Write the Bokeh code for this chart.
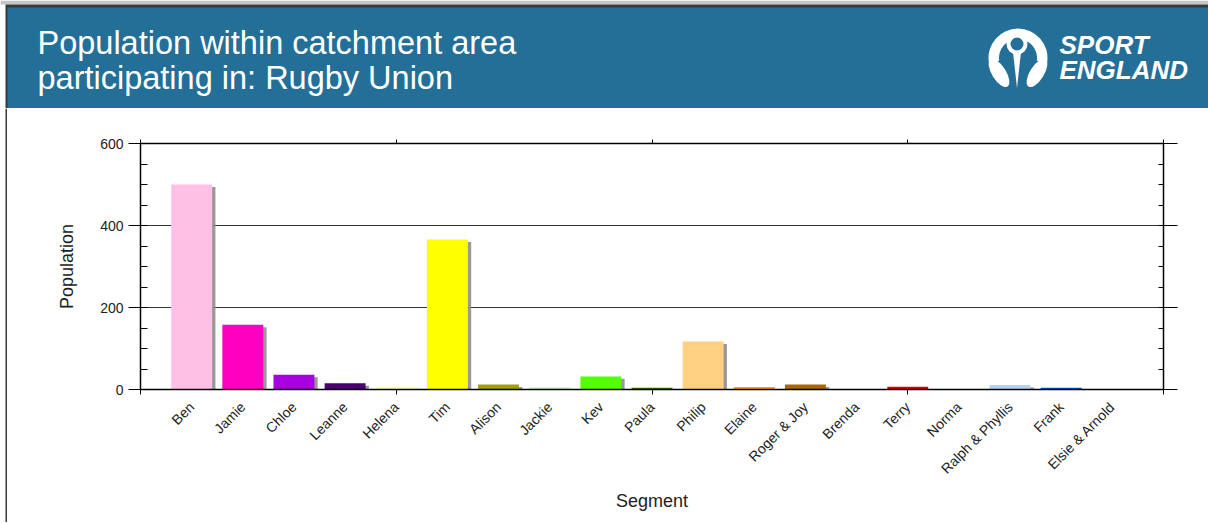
import math
from bokeh.plotting import figure
from bokeh.layouts import column, row
from bokeh.models import (Range1d, LinearAxis, FixedTicker, ColumnDataSource)
from bokeh.transform import dodge
from bokeh.core.properties import value
from bokeh.embed import file_html
from bokeh.resources import INLINE

# ---------------- data ----------------
segments = ["Ben", "Jamie", "Chloe", "Leanne", "Helena", "Tim", "Alison", "Jackie",
            "Kev", "Paula", "Philip", "Elaine", "Roger & Joy", "Brenda", "Terry",
            "Norma", "Ralph & Phyllis", "Frank", "Elsie & Arnold"]
population = [500, 158, 36, 15, 8, 366, 12, 5, 32, 4, 117, 6, 12, 1, 7, 0, 11, 4, 0]
bar_colors = ["#ffc0e6", "#ff00c0", "#a800e0", "#4b0070", "#ffffc0", "#ffff00",
              "#a0a000", "#c8f0c0", "#55ff00", "#2c6e00", "#ffd080", "#ffa000",
              "#a86800", "#d0d0d0", "#e00000", "#d0d0d0", "#b8d0f8", "#0050d0", "#d0d0d0"]
y_ticks = [0, 200, 400, 600]
title_lines = ["Population within catchment area", "participating in: Rugby Union"]
logo_lines = ["SPORT", "ENGLAND"]

FONT = "Liberation Sans"
BLUE = "#236f97"
W = 1208
HH = 108
CH = 414

# ---------------- header ----------------
h = figure(width=W, height=HH, x_range=Range1d(0, W), y_range=Range1d(0, HH),
           min_border=0, toolbar_location=None, output_backend="svg",
           background_fill_color="white", border_fill_color="white",
           outline_line_color=None, frame_align=False)
h.axis.visible = False
h.grid.visible = False

# page frame decorations + blue band
h.quad(left=[0], right=[W], bottom=[HH - 4], top=[HH], color="#c6c6c6", line_color=None)
h.quad(left=[5], right=[W], bottom=[0], top=[HH - 4], color="#3a3a3a", line_color=None)
h.quad(left=[7], right=[W], bottom=[0], top=[HH - 7], color=BLUE, line_color=None)

h.text(x=[37, 37], y=[66, 31], text=title_lines, text_font=value(FONT),
       text_font_size="32.5px", text_color="white", text_baseline="alphabetic")
h.text(x=[1059, 1059], y=[64, 39], text=logo_lines, text_font=value(FONT),
       text_font_size="26px", text_font_style="bold italic", text_color="white",
       text_baseline="alphabetic")

# logo mark
cx, cy = 1017.5, 50.5
h.annular_wedge(x=[cx], y=[cy], inner_radius=19, outer_radius=29.5,
                start_angle=math.radians(-8), end_angle=math.radians(188),
                color="white", line_color=None)
h.circle(x=[cx - 1], y=[cy + 14], radius=10.5, color="white", line_color=None)
h.circle(x=[cx - 1], y=[cy + 14], radius=6.5, color=BLUE, line_color=None)
h.patch(x=[cx - 5, cx + 3, cx - 1], y=[cy + 6, cy + 6, cy - 30], color="white", line_color=None)
h.ellipse(x=[cx - 19, cx + 19], y=[cy - 15, cy - 15], width=32, height=14,
          angle=[math.radians(-58), math.radians(58)], color="white", line_color=None)

# left page edge strip
s = figure(width=7, height=CH, x_range=Range1d(0, 7), y_range=Range1d(0, CH),
           min_border=0, toolbar_location=None, output_backend="svg",
           background_fill_color="white", border_fill_color="white",
           outline_line_color=None, frame_align=False)
s.axis.visible = False
s.grid.visible = False
s.quad(left=[5], right=[7], bottom=[0], top=[CH], color="#3a3a3a", line_color=None)

# ---------------- chart ----------------
src = ColumnDataSource(dict(x=list(range(len(segments))), top=population,
                            color=bar_colors, name=segments))

p = figure(width=W - 7, height=CH, x_range=Range1d(-1, 19), y_range=Range1d(0, 600),
           min_border_left=133, min_border_right=45, min_border_top=35, min_border_bottom=CH - 281,
           toolbar_location=None, output_backend="svg", outline_line_color=None,
           background_fill_color="white", border_fill_color="white", frame_align=False)

# bar shadows + bars
p.vbar(x=dodge("x", 0.065, range=p.x_range), top=dodge("top", -6, range=p.y_range),
       bottom=0, width=0.8, source=src, color="#8e8e8e", line_color=None, alpha=0.9)
p.vbar(x="x", top="top", bottom=0, width=0.8, source=src, color="color", line_color=None)

ytick = FixedTicker(ticks=y_ticks, minor_ticks=list(range(0, 601, 50)))

# grid
p.xgrid.visible = False
p.ygrid.ticker = FixedTicker(ticks=[200, 400])
p.ygrid.grid_line_color = "#333333"
p.ygrid.grid_line_width = 1.2

# bottom axis with category labels
xa = p.xaxis[0]
xa.ticker = FixedTicker(ticks=list(range(len(segments))), minor_ticks=[-1, 4, 9, 14, 19])
xa.major_label_overrides = {i: s_ for i, s_ in enumerate(segments)}
xa.major_label_orientation = math.pi / 4
xa.major_tick_line_color = None
xa.major_tick_out = 0
xa.major_tick_in = 0
xa.minor_tick_out = 5
xa.minor_tick_in = 0
xa.minor_tick_line_color = "black"
xa.major_label_standoff = 10
xa.major_label_text_font = FONT
xa.major_label_text_font_size = "14px"
xa.major_label_text_color = "#222222"
xa.axis_line_color = "black"
xa.axis_line_width = 1.5
xa.axis_label = "Segment"
xa.axis_label_text_font = FONT
xa.axis_label_text_font_size = "18px"
xa.axis_label_text_font_style = "normal"
xa.axis_label_text_color = "#222222"
xa.axis_label_standoff = 6

# left axis
ya = p.yaxis[0]
ya.ticker = ytick
ya.major_tick_out = 12
ya.major_tick_in = 0
ya.minor_tick_out = 0
ya.minor_tick_in = 7
ya.major_tick_line_color = "black"
ya.minor_tick_line_color = "black"
ya.axis_line_color = "black"
ya.axis_line_width = 1.5
ya.major_label_standoff = 5
ya.major_label_text_font = FONT
ya.major_label_text_font_size = "14px"
ya.major_label_text_color = "#222222"
ya.axis_label = "Population"
ya.axis_label_text_font = FONT
ya.axis_label_text_font_size = "18px"
ya.axis_label_text_font_style = "normal"
ya.axis_label_text_color = "#222222"
ya.axis_label_standoff = 20

# top axis
top_ticks = [-1, 4, 9, 14, 19]
ta = LinearAxis(ticker=FixedTicker(ticks=top_ticks),
                major_label_overrides={t: "" for t in top_ticks},
                major_tick_out=4, major_tick_in=0, axis_line_color="black",
                axis_line_width=1.5, major_tick_line_color="black")
p.add_layout(ta, "above")

# right axis
ra = LinearAxis(ticker=FixedTicker(ticks=y_ticks, minor_ticks=list(range(0, 601, 50))),
                major_label_overrides={t: "" for t in y_ticks},
                major_tick_out=14, major_tick_in=0, minor_tick_out=0, minor_tick_in=5,
                axis_line_color="black", axis_line_width=1.5,
                major_tick_line_color="black", minor_tick_line_color="black")
p.add_layout(ra, "right")

layout = column(h, row(s, p, spacing=0), spacing=0)
open("out.html", "w").write(file_html(layout, INLINE))
